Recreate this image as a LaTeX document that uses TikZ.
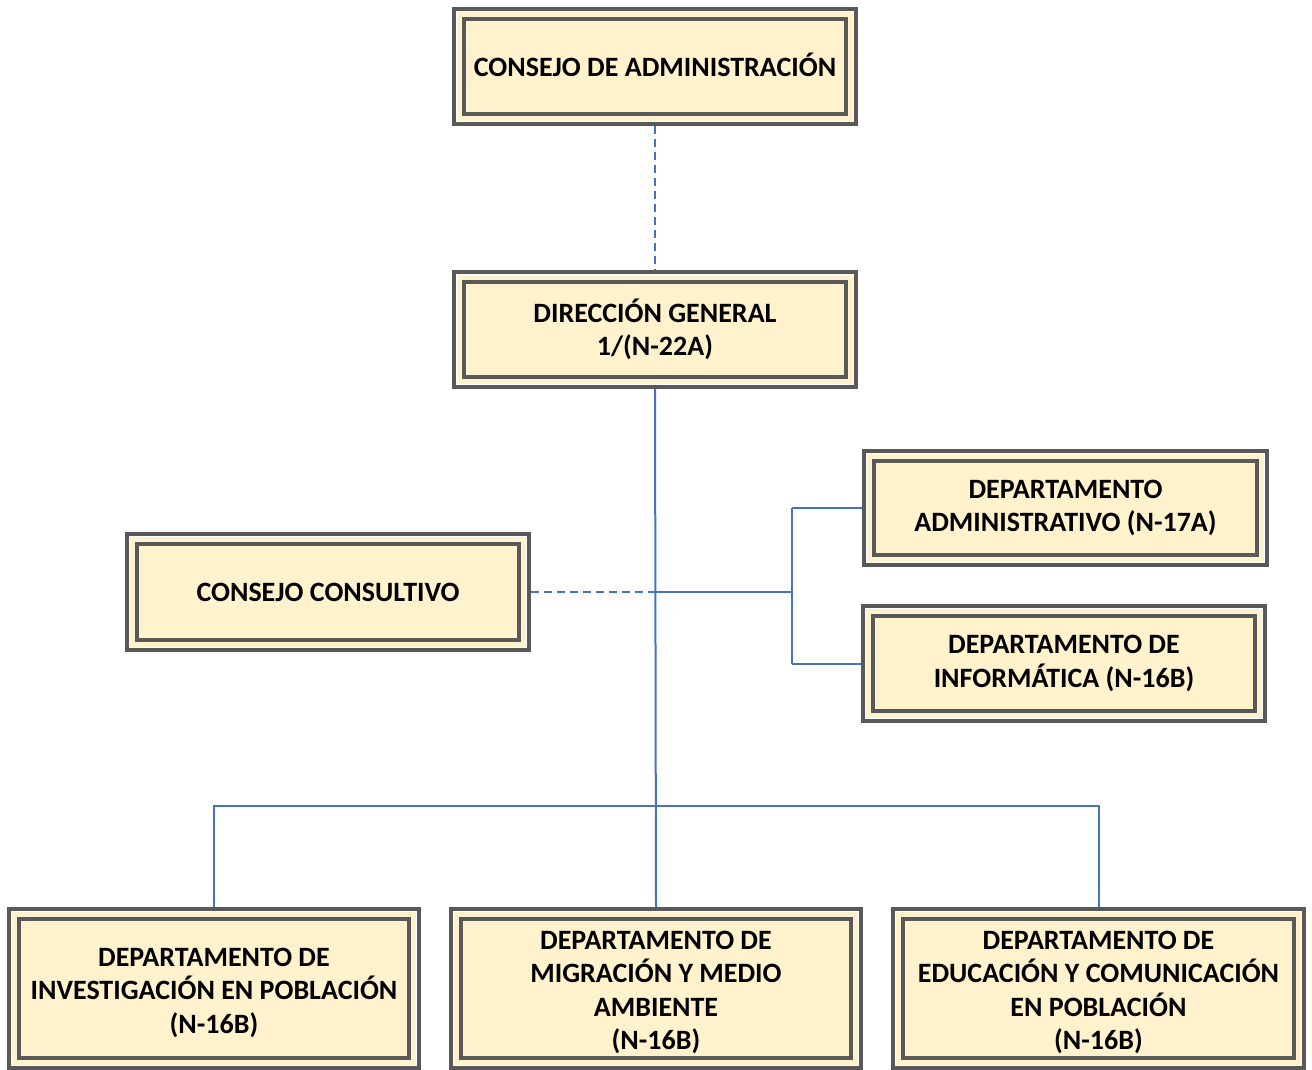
\documentclass[tikz,border=0pt]{standalone}
\usepackage{fontspec}
\setmainfont{Carlito}
\definecolor{boxfill}{HTML}{FFF2CC}
\definecolor{boxline}{HTML}{595959}
\definecolor{connblue}{HTML}{4472C4}
\tikzset{
  txt/.style={inner sep=0pt, align=center, font=\fontsize{28}{33.5}\selectfont\bfseries},
  conn/.style={draw=connblue, line width=2pt},
  dconn/.style={conn, dash pattern=on 8pt off 5pt},
  bline/.style={draw=boxline, line width=4pt}
}
\newcommand\obox[7][0]{%
  \fill[white] (#3,#4) rectangle (#5,#6);
  \fill[boxfill] (#3+5,#4+5) rectangle (#5-5,#6-5);
  \draw[bline] (#3+2,#4+2) rectangle (#5-2,#6-2);
  \draw[bline] (#3+12,#4+12) rectangle (#5-12,#6-12);
  \node[txt, minimum width={#5-#3}, minimum height={#6-#4}] (#2) at ({(#3+#5)/2},{(#4+#6)/2}) {};
  \node[txt] at ([yshift=#1pt]#2.center) {#7};
}
\begin{document}
\begin{tikzpicture}[x=1pt,y=-1pt]
\useasboundingbox (0,0) rectangle (1312,1069);
\obox[2]{ca}{452}{7}{858}{126}{CONSEJO DE ADMINISTRACIÓN}
\obox{dg}{452}{270}{858}{389}{DIRECCIÓN GENERAL\\1/(N-22A)}
\obox{cc}{125}{532}{531}{652}{CONSEJO CONSULTIVO}
\obox{da}{862}{449}{1269}{567}{DEPARTAMENTO\\ADMINISTRATIVO (N-17A)}
\obox{di}{861}{604}{1267}{723}{DEPARTAMENTO DE\\INFORMÁTICA (N-16B)}
\obox[-4]{inv}{7}{907}{421}{1070}{DEPARTAMENTO DE\\INVESTIGACIÓN EN POBLACIÓN\\(N-16B)}
\obox[-4]{mig}{449}{907}{863}{1070}{DEPARTAMENTO DE\\MIGRACIÓN Y MEDIO\\AMBIENTE\\(N-16B)}
\obox[-4]{edu}{891}{907}{1306}{1070}{DEPARTAMENTO DE\\EDUCACIÓN Y COMUNICACIÓN\\EN POBLACIÓN\\(N-16B)}
\coordinate (j1) at (655,592);
\coordinate (j2) at (792,592);
\coordinate (hb) at (655,806);
\draw[dconn] (ca.south) -- (dg.north);
\draw[conn] (dg.south) -- (mig.north);
\draw[dconn] (cc.east) -- (j1);
\draw[conn] (j1) -- (j2);
\draw[conn] (j2 |- da.west) -- (j2 |- di.west);
\draw[conn] (j2 |- da.west) -- (da.west);
\draw[conn] (j2 |- di.west) -- (di.west);
\draw[conn] (inv.north) -- (inv.north |- hb) -- (edu.north |- hb) -- (edu.north);
\end{tikzpicture}
\end{document}
